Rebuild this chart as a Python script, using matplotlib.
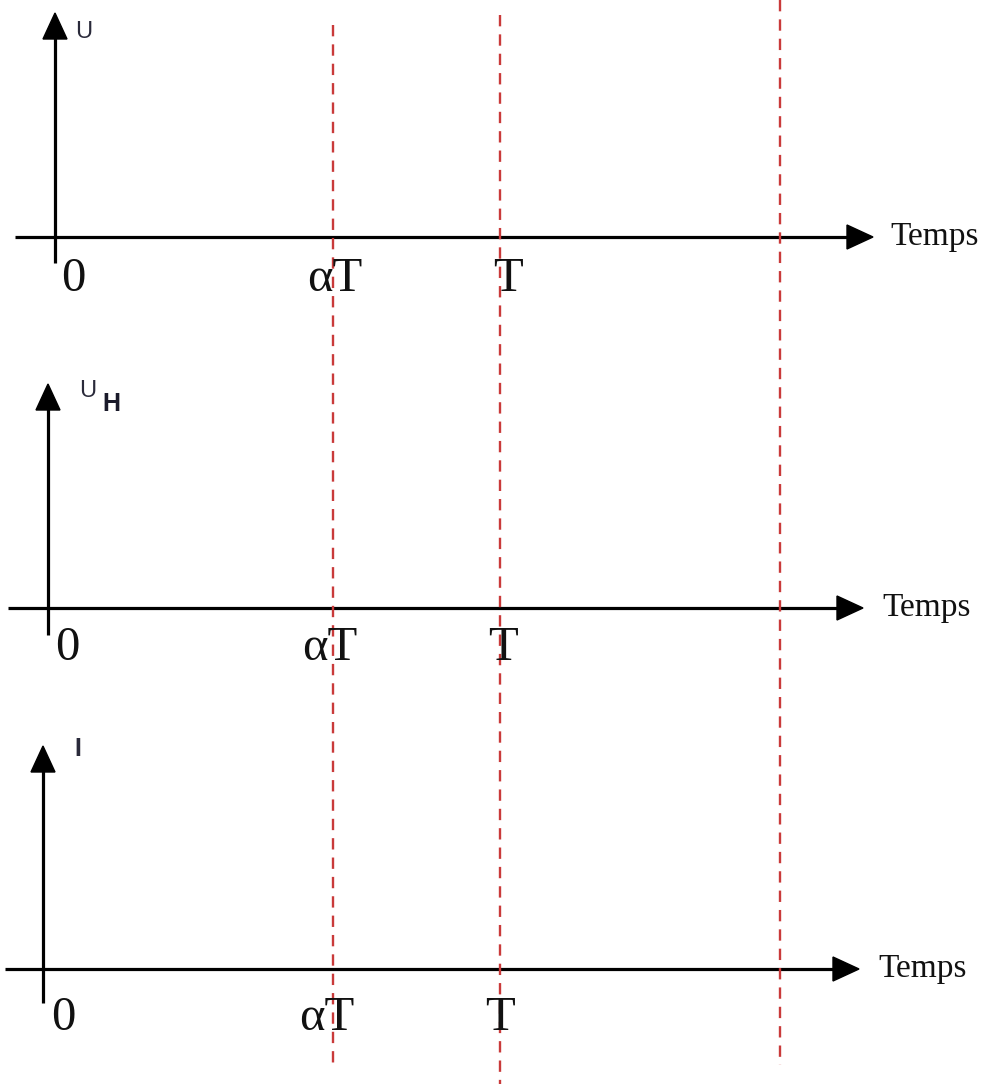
import matplotlib
matplotlib.use("Agg")
import matplotlib.pyplot as plt

# ---- content ----
panel_ylabels = ["U", "U", "I"]
panel_ysubs = ["", "H", ""]
tick_labels = ["0", "αT", "T"]
axis_label = "Temps"
dashed_x = [333, 500, 780]
dashed_top = [25, 15, 0]
dashed_bottom = [1065, 1084, 1065]

# ---- layout (pixel coordinates, y downward) ----
origin_x = [55, 48, 43]
baseline_y = [237, 608, 969]
h_start = [15, 8, 5]
h_tip = [873, 863, 859]
v_bottom = [263, 635, 1003]
v_tip = [13, 384, 746]
tick_pos_x = [[73, 335, 508], [67, 330, 503], [63, 327, 500]]
tick_pos_y = [279, 648, 1018]
temps_x = [890, 882, 878]
ylab_pos = [(75, 32), (79, 391), (74, 749)]
ylab_size = [17, 17, 18]

W, H = 989, 1084
fig = plt.figure(figsize=(W / 100, H / 100), dpi=100)
ax = fig.add_axes([0, 0, 1, 1])
ax.set_xlim(0, W)
ax.set_ylim(H, 0)
ax.axis("off")

red = "#c93a3a"
for x, t, b in zip(dashed_x, dashed_top, dashed_bottom):
    ax.plot([x, x], [t, b], color=red, lw=1.7, linestyle=(0, (4.8, 3.4)), zorder=3)

aw, al = 12, 26  # arrowhead half-width, length
for i in range(3):
    ox, by = origin_x[i], baseline_y[i]
    # horizontal axis
    ax.plot([h_start[i], h_tip[i] - al + 2], [by, by], color="black", lw=2.3, solid_capstyle="butt", zorder=2)
    ax.fill([h_tip[i] - al, h_tip[i], h_tip[i] - al], [by - aw, by, by + aw], color="black", zorder=2)
    # vertical axis
    ax.plot([ox, ox], [v_bottom[i], v_tip[i] + al - 2], color="black", lw=2.3, solid_capstyle="butt", zorder=2)
    ax.fill([ox - aw, ox, ox + aw], [v_tip[i] + al, v_tip[i], v_tip[i] + al], color="black", zorder=2)
    # tick labels
    for lab, tx in zip(tick_labels, tick_pos_x[i]):
        ax.text(tx, tick_pos_y[i], lab, family="Liberation Serif", fontsize=35,
                ha="center", va="center", color="#111111", zorder=4)
    # axis label
    ax.text(temps_x[i], by, axis_label, family="Liberation Serif", fontsize=24,
            ha="left", va="center", color="#111111")
    # y label
    lx, ly = ylab_pos[i]
    ax.text(lx, ly, panel_ylabels[i], family="Liberation Sans", fontsize=ylab_size[i],
            ha="left", va="center", color="#2a2a3a",
            fontweight="bold" if panel_ylabels[i] == "I" else "normal")
    if panel_ysubs[i]:
        ax.text(lx + 23, ly + 13, panel_ysubs[i], family="Liberation Sans", fontsize=18,
                ha="left", va="center", color="#1a1a2a", fontweight="bold")

fig.savefig("out.png", dpi=100)
